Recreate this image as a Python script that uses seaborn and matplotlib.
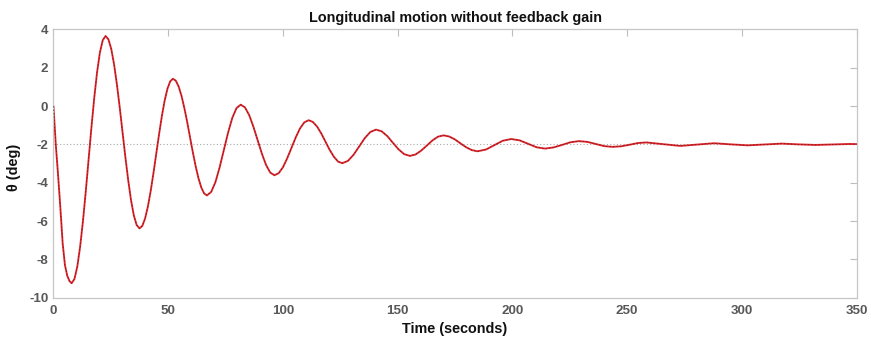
import matplotlib
matplotlib.use("Agg")
import matplotlib.pyplot as plt
import pandas as pd
import seaborn as sns

# Pitch-angle response (deg) over time (s)
time_s = [
    0.0, 0.5, 1.0, 2.0, 3.0, 4.0, 5.0, 6.0, 7.0,
    7.90, 9.13, 10.37, 11.60, 12.83, 14.07, 15.30, 16.53, 17.77, 19.00, 20.23, 21.47, 22.70,
    23.93, 25.17, 26.40, 27.63, 28.87, 30.10, 31.33, 32.57, 33.80, 35.03, 36.27, 37.50,
    38.72, 39.93, 41.15, 42.37, 43.58, 44.80, 46.02, 47.23, 48.45, 49.67, 50.88, 52.10,
    53.33, 54.57, 55.80, 57.03, 58.27, 59.50, 60.73, 61.97, 63.20, 64.43, 65.67, 66.90,
    68.74, 70.58, 72.41, 74.25, 76.09, 77.93, 79.76, 81.60,
    83.44, 85.28, 87.11, 88.95, 90.79, 92.63, 94.46, 96.30,
    98.16, 100.03, 101.89, 103.75, 105.61, 107.48, 109.34, 111.20,
    113.04, 114.88, 116.71, 118.55, 120.39, 122.23, 124.06, 125.90,
    128.35, 130.80, 133.25, 135.70, 138.15, 140.60,
    143.05, 145.50, 147.95, 150.40, 152.85, 155.30,
    157.75, 160.20, 162.65, 165.10, 167.55, 170.00,
    172.47, 174.93, 177.40, 179.87, 182.33, 184.80,
    188.48, 192.15, 195.83, 199.50,
    203.18, 206.85, 210.53, 214.20,
    217.90, 221.60, 225.30, 229.00,
    232.68, 236.35, 240.03, 243.70,
    247.38, 251.05, 254.73, 258.40,
    265.80, 273.20, 280.55, 287.90, 295.25, 302.60, 310.00,
    317.40, 324.75, 332.10, 339.45, 346.80, 350.00,
]
theta_deg = [
    0.00, -1.00, -2.00, -3.60, -5.30, -7.15, -8.30, -8.85, -9.13,
    -9.24, -9.02, -8.38, -7.35, -6.02, -4.46, -2.80, -1.13, 0.43, 1.76, 2.79, 3.43, 3.65,
    3.48, 2.98, 2.18, 1.14, -0.07, -1.37, -2.66, -3.87, -4.91, -5.71, -6.21, -6.38,
    -6.25, -5.86, -5.24, -4.43, -3.49, -2.48, -1.47, -0.53, 0.28, 0.90, 1.29, 1.42,
    1.32, 1.01, 0.53, -0.10, -0.83, -1.62, -2.41, -3.14, -3.77, -4.25, -4.56, -4.66,
    -4.48, -3.97, -3.20, -2.30, -1.39, -0.62, -0.11, 0.07,
    -0.07, -0.47, -1.07, -1.77, -2.47, -3.07, -3.47, -3.61,
    -3.50, -3.19, -2.72, -2.18, -1.63, -1.16, -0.85, -0.74,
    -0.83, -1.07, -1.43, -1.86, -2.29, -2.65, -2.90, -2.98,
    -2.86, -2.54, -2.11, -1.67, -1.35, -1.23,
    -1.32, -1.57, -1.92, -2.26, -2.51, -2.60,
    -2.53, -2.33, -2.07, -1.80, -1.60, -1.53,
    -1.59, -1.74, -1.95, -2.15, -2.30, -2.36,
    -2.27, -2.04, -1.81, -1.72,
    -1.79, -1.97, -2.15, -2.22,
    -2.16, -2.03, -1.89, -1.83,
    -1.87, -1.98, -2.09, -2.13,
    -2.10, -2.02, -1.93, -1.90,
    -1.99, -2.08, -2.01, -1.94, -2.00, -2.05, -2.005,
    -1.96, -2.00, -2.03, -2.005, -1.98, -1.985,
]
steady_state_deg = -2.0

x_ticks = [0, 50, 100, 150, 200, 250, 300, 350]
y_ticks = [-10, -8, -6, -4, -2, 0, 2, 4]

title_text = "Longitudinal motion without feedback gain"
x_label = "Time (seconds)"
y_label = "θ (deg)"

sns.set_theme(style="white")
plt.rcParams["font.family"] = ["Liberation Sans", "DejaVu Sans"]
plt.rcParams["axes.unicode_minus"] = False

df = pd.DataFrame({"t": time_s, "theta": theta_deg})

fig = plt.figure(figsize=(8.71, 3.38), dpi=100)
ax = fig.add_axes([0.0614, 0.1189, 0.9220, 0.7944])

# steady-state reference
ax.axhline(steady_state_deg, color="#a8a8a8", lw=0.8, ls=(0, (1, 2)), zorder=1)

# red response with a thin dark dashed trace over it
sns.lineplot(data=df, x="t", y="theta", color="#e0262c", lw=1.35, ax=ax, zorder=2)
sns.lineplot(data=df, x="t", y="theta", color="#4a1212", lw=0.45, alpha=0.85,
             linestyle=(0, (2.5, 3)), ax=ax, zorder=3)

ax.set_xlim(0, 350)
ax.set_ylim(-10, 4)
ax.set_xticks(x_ticks)
ax.set_yticks(y_ticks)

for side in ["left", "right", "top", "bottom"]:
    ax.spines[side].set_visible(True)
    ax.spines[side].set_color("#c6c6c6")
    ax.spines[side].set_linewidth(0.9)

ax.tick_params(axis="both", direction="in", length=5, width=0.8, color="#bdbdbd",
               labelsize=9.6, labelcolor="#585858", top=True, right=True,
               labeltop=False, labelright=False)
ax.tick_params(axis="x", pad=5.5)
ax.tick_params(axis="y", pad=3.7)
for lab in ax.get_xticklabels() + ax.get_yticklabels():
    lab.set_fontweight("bold")

ax.set_title(title_text, fontsize=10.4, fontweight="bold", color="#111111", pad=4.9)
ax.set_xlabel(x_label, fontsize=10.4, fontweight="bold", color="#111111")
ax.set_ylabel(y_label, fontsize=10.4, fontweight="bold", color="#111111")
ax.xaxis.set_label_coords(0.5, -0.089)
ax.yaxis.set_label_coords(-0.040, 0.485)

fig.savefig("out.png", dpi=100, facecolor="white")
